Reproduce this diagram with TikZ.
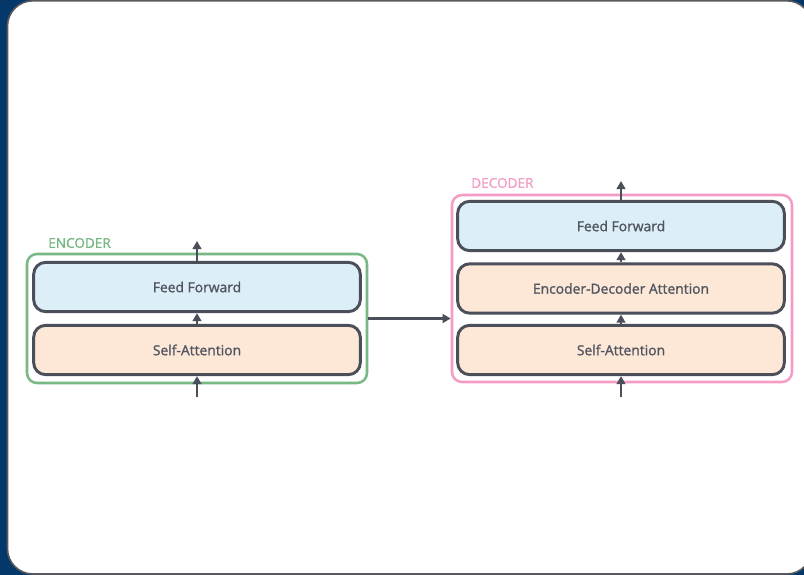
\documentclass[tikz,border=0pt]{standalone}
\usepackage{fontspec}
\setmainfont{Open Sans}
\newfontfamily\boxfont{Open Sans}[FakeBold=1.3]
\usetikzlibrary{arrows.meta}
\definecolor{navy}{HTML}{04386A}
\definecolor{cardedge}{HTML}{5A5A5E}
\definecolor{ink}{HTML}{4A4F5A}
\definecolor{inktext}{HTML}{50555F}
\definecolor{ffblue}{HTML}{DCEFF9}
\definecolor{attpeach}{HTML}{FDE7D6}
\definecolor{encgreen}{HTML}{78B884}
\definecolor{decpink}{HTML}{F59CC6}
\begin{document}
\begin{tikzpicture}[x=0.75pt,y=-0.75pt,
  layer/.style={draw=ink, line width=2.2pt, rounded corners=9pt,
    minimum width=245pt, minimum height=37pt, inner sep=0pt,
    text=inktext, font=\boxfont\fontsize{10.4}{12}\selectfont},
  ffbox/.style={layer, fill=ffblue},
  attbox/.style={layer, fill=attpeach},
  group/.style={line width=1.9pt, rounded corners=7.5pt, fill=white,
    minimum width=255pt, inner sep=0pt},
  grouplabel/.style={anchor=west, inner sep=0pt, font=\boxfont\fontsize{10.2}{12}\selectfont},
  flow/.style={draw=ink, line width=1.6pt, -{Triangle[length=6pt,width=6.5pt]}}]
\clip (0,0) rectangle (804,575);
% page background and card
\fill[navy] (0,0) rectangle (804,575);
\draw[cardedge, line width=1.2pt, fill=white, rounded corners=19pt] (7.5,0.8) rectangle (812,574);

% encoder stack
\node[group, draw=encgreen, minimum height=96.75pt] (encbox) at (197,318.5) {};
\node[grouplabel, text=encgreen] (enclabel) at (48,243) {ENCODER};
\node[ffbox] (encff) at (197,287) {Feed Forward};
\node[attbox] (encsa) at (197,350) {Self-Attention};
\coordinate (encin) at (197,397);
\coordinate (encout) at (197,241);

% decoder stack
\node[group, draw=decpink, minimum height=140.25pt] (decbox) at (622,288.5) {};
\node[grouplabel, text=decpink] (declabel) at (471,183) {DECODER};
\node[ffbox] (decff) at (621,226) {Feed Forward};
\node[attbox] (deceda) at (621,288.5) {Encoder-Decoder Attention};
\node[attbox] (decsa) at (621,350) {Self-Attention};
\coordinate (decin) at (621,397);
\coordinate (decout) at (621,181);

% data flow
\draw[flow] (encin) -- (encsa.south);
\draw[flow] (encsa.north) -- (encff.south);
\draw[flow] (encff.north) -- (encout);
\draw[flow] (encbox.east) -- (encbox.east -| decbox.west);
\draw[flow] (decin) -- (decsa.south);
\draw[flow] (decsa.north) -- (deceda.south);
\draw[flow] (deceda.north) -- (decff.south);
\draw[flow] (decff.north) -- (decout);
\end{tikzpicture}
\end{document}
